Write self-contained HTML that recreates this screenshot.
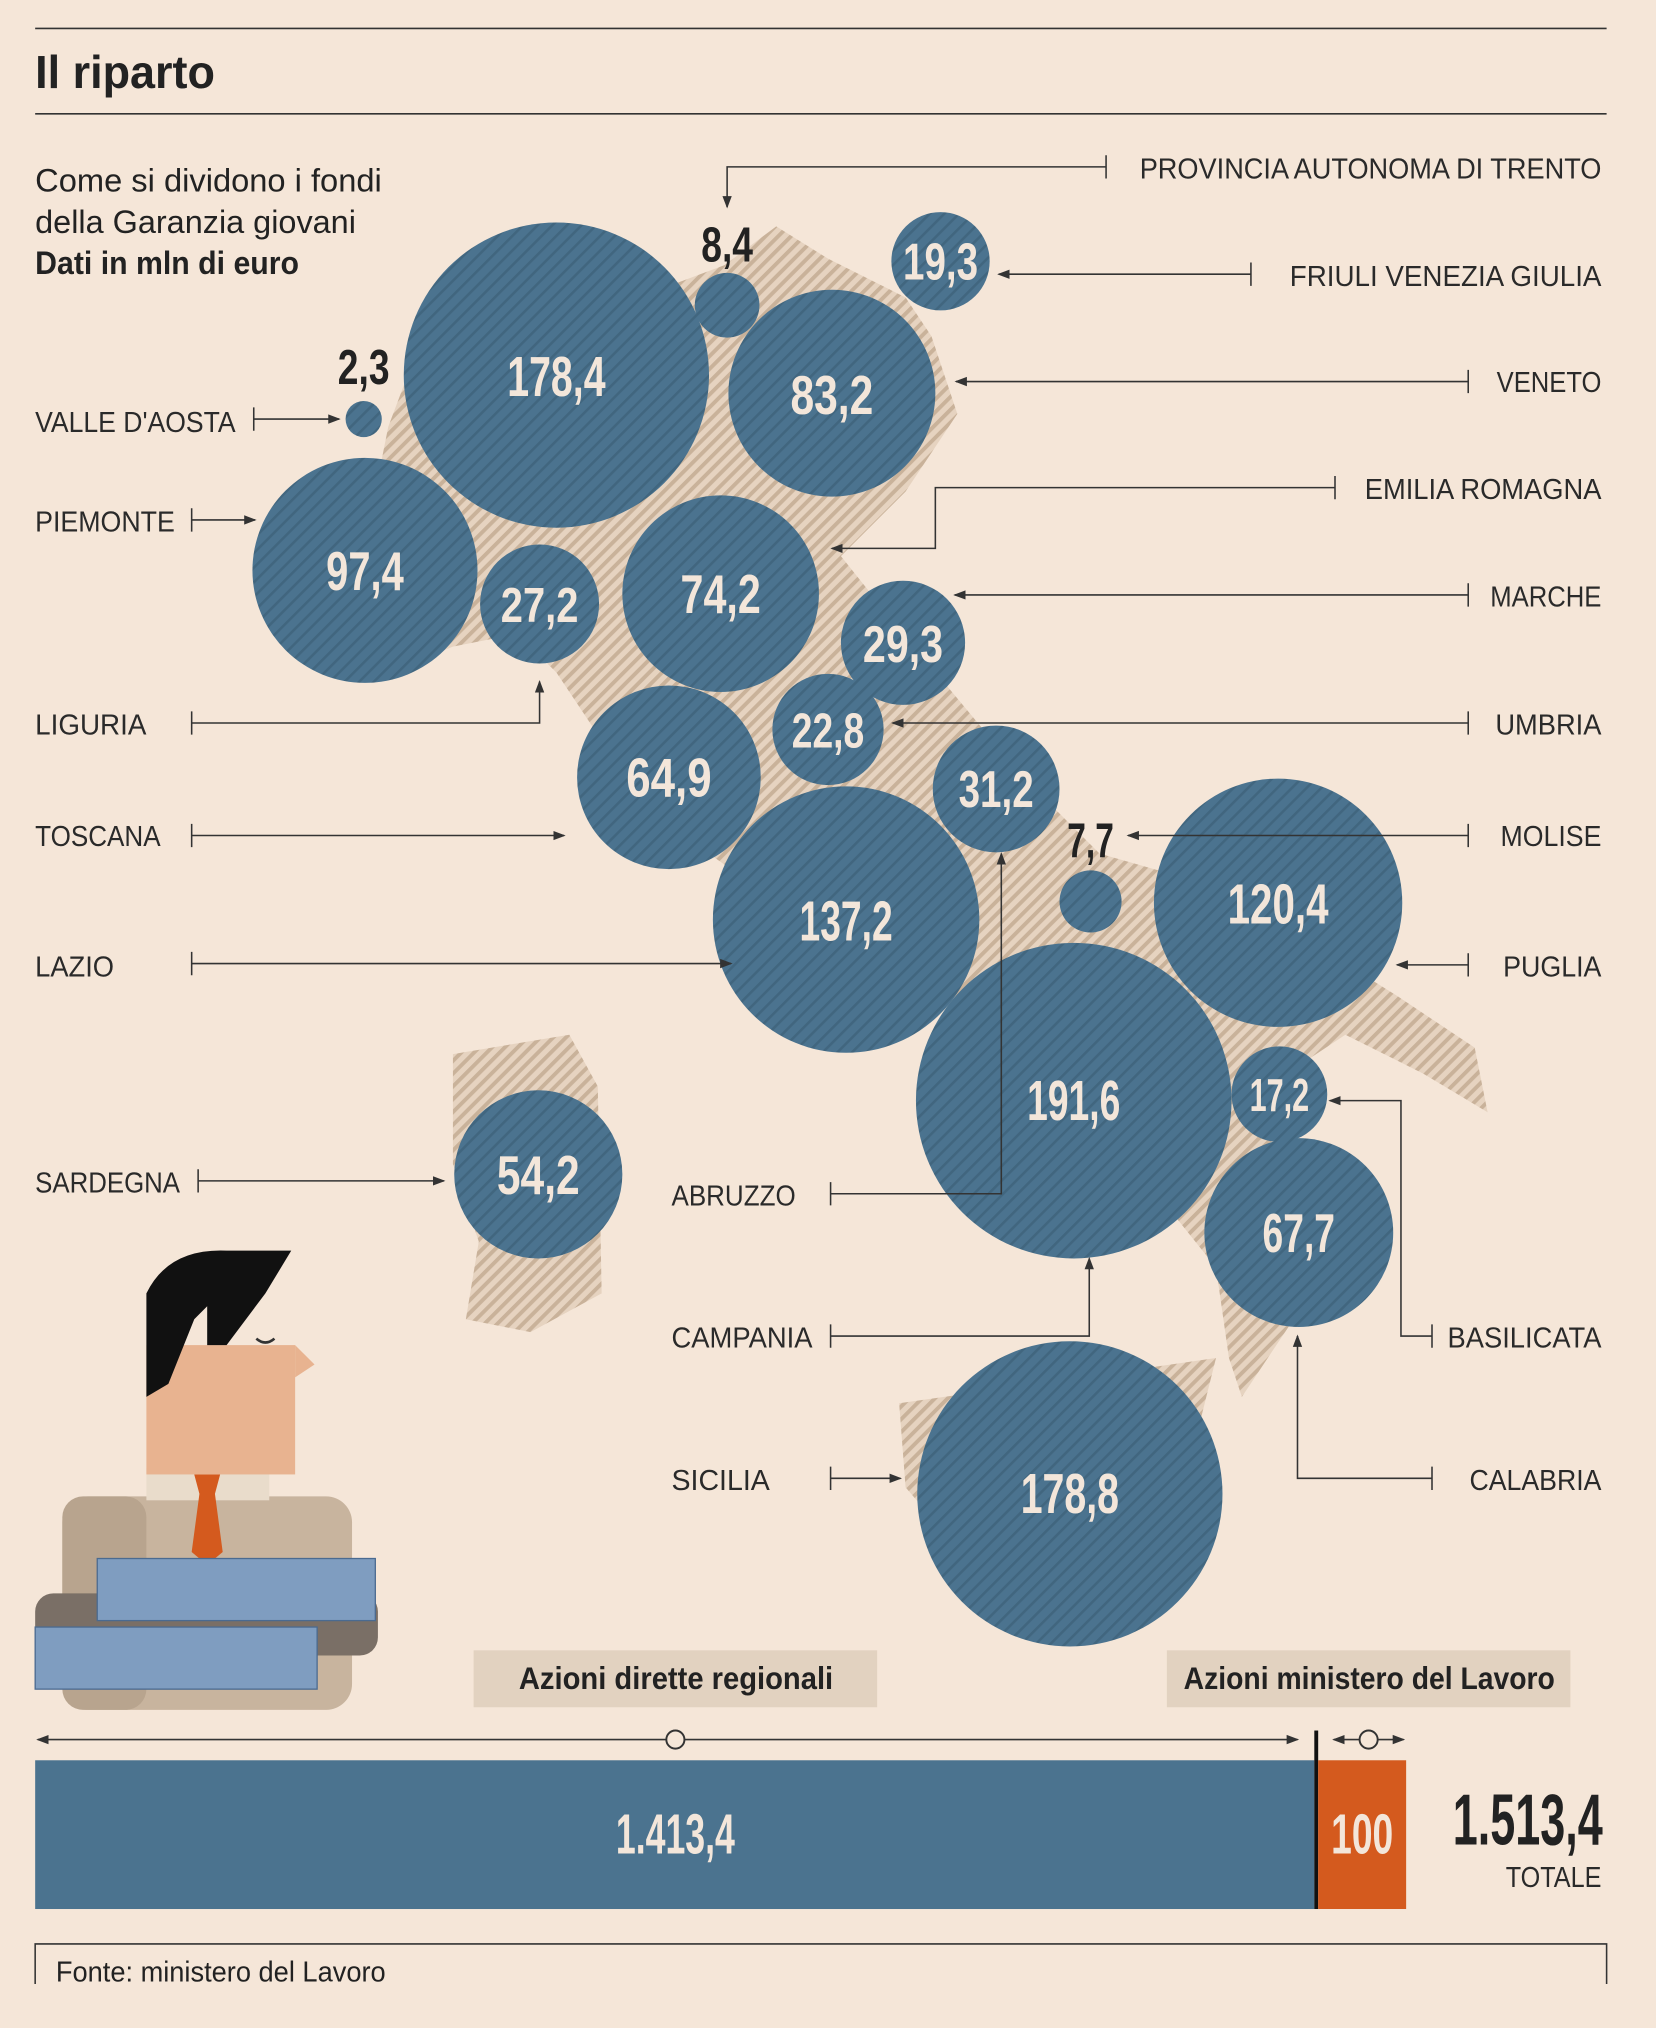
<!DOCTYPE html>
<html><head><meta charset="utf-8"><style>
html,body{margin:0;padding:0;background:#f5e6d8}
svg{display:block}
.t{font-family:"Liberation Sans Narrow","Liberation Sans",sans-serif;}
.lab{font-family:"Liberation Sans Narrow","Liberation Sans",sans-serif;font-size:22px;fill:#2a2a2a}
.num{font-family:"Liberation Sans Narrow","Liberation Sans",sans-serif;font-weight:bold;fill:#f3e6da;text-anchor:middle}
.ln{stroke:#333;stroke-width:1.2;fill:none}
</style></head><body>
<svg width="1656" height="2028" viewBox="0 0 1280 1568" xmlns="http://www.w3.org/2000/svg">
<defs>
<pattern id="h" width="7" height="7" patternUnits="userSpaceOnUse" patternTransform="rotate(45)">
<rect width="7" height="7" fill="#e6d3c0"/><rect width="3" height="7" fill="#c9b29a"/></pattern>
<pattern id="hc" width="8" height="8" patternUnits="userSpaceOnUse" patternTransform="rotate(45)">
<rect width="8" height="8" fill="#4b738f"/><rect width="2" height="8" fill="#41667f"/></pattern>
<marker id="a" markerWidth="8" markerHeight="8" refX="7" refY="4" orient="auto"><path d="M0,1 L8,4 L0,7z" fill="#333"/></marker>
</defs>
<rect width="1280" height="1568" fill="#f5e6d8"/>
<line x1="27" y1="22" x2="1242" y2="22" stroke="#333" stroke-width="1.2"/>
<line x1="27" y1="88" x2="1242" y2="88" stroke="#333" stroke-width="1.2"/>
<text x="27" y="68" class="t" font-size="36" font-weight="bold" fill="#222" textLength="139" lengthAdjust="spacingAndGlyphs">Il riparto</text>
<text x="27" y="148" class="t" font-size="25" fill="#222" textLength="268" lengthAdjust="spacingAndGlyphs">Come si dividono i fondi</text>
<text x="27" y="180" class="t" font-size="25" fill="#222" textLength="248" lengthAdjust="spacingAndGlyphs">della Garanzia giovani</text>
<text x="27" y="212" class="t" font-size="25" font-weight="bold" fill="#222" textLength="204" lengthAdjust="spacingAndGlyphs">Dati in mln di euro</text>

<!-- map -->
<path fill="url(#h)" d="M300,330 L330,250 L380,230 L450,240 L520,220 L560,205 L600,175 L640,200 L700,230 L720,260 L740,320 L700,380 L650,430 L690,480 L740,540 L790,600 L850,660 L920,680 L1000,720 L1080,770 L1140,810 L1150,860 L1100,830 L1040,800 L1010,820 L1000,880 L1020,950 L1000,1020 L960,1080 L950,1050 L940,980 L900,930 L860,880 L800,830 L740,780 L660,740 L590,690 L520,640 L470,580 L430,520 L400,490 L350,500 L300,520 L270,440 L290,380z"/>
<path fill="url(#h)" d="M350,815 L440,800 L462,840 L465,1000 L410,1030 L360,1020 L370,960 L350,900z"/>
<path fill="url(#h)" d="M695,1085 L800,1070 L940,1050 L920,1130 L900,1220 L830,1270 L760,1220 L700,1150z"/>

<!-- circles -->
<g fill="url(#hc)">
<circle cx="430" cy="290" r="118"/><circle cx="562" cy="236" r="25"/><circle cx="727" cy="202" r="38"/>
<circle cx="643" cy="304" r="80"/><circle cx="281" cy="324" r="14"/><circle cx="282" cy="441" r="87"/>
<circle cx="417" cy="467" r="46"/><circle cx="557" cy="459" r="76"/><circle cx="698" cy="497" r="48"/>
<circle cx="640" cy="564" r="43"/><circle cx="517" cy="601" r="71"/><circle cx="770" cy="610" r="49"/>
<circle cx="843" cy="697" r="24"/><circle cx="988" cy="698" r="96"/><circle cx="654" cy="711" r="103"/>
<circle cx="830" cy="851" r="122"/><circle cx="989" cy="846" r="37"/><circle cx="416" cy="908" r="65"/>
<circle cx="1004" cy="953" r="73"/><circle cx="827" cy="1155" r="118"/>
</g>
<g class="num" lengthAdjust="spacingAndGlyphs">
<text x="430" y="306" font-size="44" textLength="76" lengthAdjust="spacingAndGlyphs">178,4</text>
<text x="727" y="216" font-size="40" textLength="58" lengthAdjust="spacingAndGlyphs">19,3</text>
<text x="643" y="320" font-size="42" textLength="64" lengthAdjust="spacingAndGlyphs">83,2</text>
<text x="282" y="456" font-size="42" textLength="60" lengthAdjust="spacingAndGlyphs">97,4</text>
<text x="417" y="481" font-size="38" textLength="60" lengthAdjust="spacingAndGlyphs">27,2</text>
<text x="557" y="474" font-size="42" textLength="62" lengthAdjust="spacingAndGlyphs">74,2</text>
<text x="698" y="512" font-size="40" textLength="62" lengthAdjust="spacingAndGlyphs">29,3</text>
<text x="640" y="578" font-size="38" textLength="56" lengthAdjust="spacingAndGlyphs">22,8</text>
<text x="517" y="616" font-size="42" textLength="66" lengthAdjust="spacingAndGlyphs">64,9</text>
<text x="770" y="624" font-size="40" textLength="58" lengthAdjust="spacingAndGlyphs">31,2</text>
<text x="988" y="714" font-size="44" textLength="78" lengthAdjust="spacingAndGlyphs">120,4</text>
<text x="654" y="727" font-size="44" textLength="72" lengthAdjust="spacingAndGlyphs">137,2</text>
<text x="830" y="866" font-size="44" textLength="72" lengthAdjust="spacingAndGlyphs">191,6</text>
<text x="989" y="859" font-size="36" textLength="46" lengthAdjust="spacingAndGlyphs">17,2</text>
<text x="416" y="923" font-size="42" textLength="64" lengthAdjust="spacingAndGlyphs">54,2</text>
<text x="1004" y="968" font-size="42" textLength="56" lengthAdjust="spacingAndGlyphs">67,7</text>
<text x="827" y="1170" font-size="44" textLength="76" lengthAdjust="spacingAndGlyphs">178,8</text>
</g>
<g class="num" style="fill:#222">
<text x="562" y="202" font-size="38" textLength="40" lengthAdjust="spacingAndGlyphs">8,4</text>
<text x="281" y="297" font-size="38" textLength="40" lengthAdjust="spacingAndGlyphs">2,3</text>
<text x="843" y="663" font-size="38" textLength="36" lengthAdjust="spacingAndGlyphs">7,7</text>
</g>

<!-- labels & leaders -->
<g class="lab">
<text x="881" y="138" textLength="357" lengthAdjust="spacingAndGlyphs">PROVINCIA AUTONOMA DI TRENTO</text>
<text x="997" y="221" textLength="241" lengthAdjust="spacingAndGlyphs">FRIULI VENEZIA GIULIA</text>
<text x="1157" y="303" textLength="81" lengthAdjust="spacingAndGlyphs">VENETO</text>
<text x="1055" y="386" textLength="183" lengthAdjust="spacingAndGlyphs">EMILIA ROMAGNA</text>
<text x="1152" y="469" textLength="86" lengthAdjust="spacingAndGlyphs">MARCHE</text>
<text x="1156" y="568" textLength="82" lengthAdjust="spacingAndGlyphs">UMBRIA</text>
<text x="1160" y="654" textLength="78" lengthAdjust="spacingAndGlyphs">MOLISE</text>
<text x="1162" y="755" textLength="76" lengthAdjust="spacingAndGlyphs">PUGLIA</text>
<text x="1119" y="1042" textLength="119" lengthAdjust="spacingAndGlyphs">BASILICATA</text>
<text x="1136" y="1152" textLength="102" lengthAdjust="spacingAndGlyphs">CALABRIA</text>
<text x="27" y="334" textLength="155" lengthAdjust="spacingAndGlyphs">VALLE D'AOSTA</text>
<text x="27" y="411" textLength="108" lengthAdjust="spacingAndGlyphs">PIEMONTE</text>
<text x="27" y="568" textLength="86" lengthAdjust="spacingAndGlyphs">LIGURIA</text>
<text x="27" y="654" textLength="97" lengthAdjust="spacingAndGlyphs">TOSCANA</text>
<text x="27" y="755" textLength="61" lengthAdjust="spacingAndGlyphs">LAZIO</text>
<text x="27" y="922" textLength="112" lengthAdjust="spacingAndGlyphs">SARDEGNA</text>
<text x="519" y="932" textLength="96" lengthAdjust="spacingAndGlyphs">ABRUZZO</text>
<text x="519" y="1042" textLength="109" lengthAdjust="spacingAndGlyphs">CAMPANIA</text>
<text x="519" y="1152" textLength="76" lengthAdjust="spacingAndGlyphs">SICILIA</text>
</g>
<g class="ln">
<path d="M855,120 V138 M855,129 H562 V160" marker-end="url(#a)"/>
<path d="M967,203 V221 M967,212 H772" marker-end="url(#a)"/>
<path d="M1135,286 V304 M1135,295 H739" marker-end="url(#a)"/>
<path d="M1032,368 V386 M1032,377 H723 V424 H643" marker-end="url(#a)"/>
<path d="M1135,451 V469 M1135,460 H738" marker-end="url(#a)"/>
<path d="M1135,550 V568 M1135,559 H690" marker-end="url(#a)"/>
<path d="M1135,637 V655 M1135,646 H872" marker-end="url(#a)"/>
<path d="M1135,737 V755 M1135,746 H1080" marker-end="url(#a)"/>
<path d="M1107,1024 V1042 M1107,1033 H1083 V851 H1028" marker-end="url(#a)"/>
<path d="M1107,1134 V1152 M1107,1143 H1003 V1033" marker-end="url(#a)"/>
<path d="M196,315 V333 M196,324 H262" marker-end="url(#a)"/>
<path d="M148,393 V411 M148,402 H197" marker-end="url(#a)"/>
<path d="M148,550 V568 M148,559 H417 V527" marker-end="url(#a)"/>
<path d="M148,637 V655 M148,646 H436" marker-end="url(#a)"/>
<path d="M148,736 V754 M148,745 H565" marker-end="url(#a)"/>
<path d="M153,904 V922 M153,913 H343" marker-end="url(#a)"/>
<path d="M642,914 V932 M642,923 H774 V660" marker-end="url(#a)"/>
<path d="M642,1024 V1042 M642,1033 H842 V973" marker-end="url(#a)"/>
<path d="M642,1134 V1152 M642,1143 H696" marker-end="url(#a)"/>
</g>

<!-- person -->
<rect x="48" y="1157" width="224" height="165" rx="20" fill="#c8b49e"/>
<rect x="48" y="1157" width="65" height="165" rx="16" fill="#b8a48e"/>
<rect x="113" y="1135" width="95" height="25" fill="#e9dccb"/>
<rect x="113" y="1040" width="115" height="100" fill="#e8b390"/>
<path d="M228,1040 L243,1055 L228,1065z" fill="#e8b390"/>
<path d="M113,1080 L113,1000 Q130,965 175,967 L225,967 L205,1000 L175,1040 L160,1040 L160,1010 L150,1020 L130,1070z" fill="#111"/>
<path d="M198,1035 Q205,1041 212,1035" stroke="#333" stroke-width="2" fill="none"/>
<path d="M150,1140 H170 L166,1155 L172,1200 L160,1210 L148,1200 L154,1155z" fill="#d45a1e"/>
<rect x="27" y="1232" width="265" height="48" rx="14" fill="#7a6f66"/>
<rect x="75" y="1205" width="215" height="48" fill="#7f9dc0" stroke="#4a6a90"/>
<rect x="27" y="1258" width="218" height="48" fill="#7f9dc0" stroke="#4a6a90"/>

<!-- bottom -->
<rect x="366" y="1276" width="312" height="44" fill="#e2d2c0"/>
<text x="401" y="1306" class="t" font-size="24" font-weight="bold" fill="#222" textLength="243" lengthAdjust="spacingAndGlyphs">Azioni dirette regionali</text>
<rect x="902" y="1276" width="312" height="44" fill="#e2d2c0"/>
<text x="915" y="1306" class="t" font-size="24" font-weight="bold" fill="#222" textLength="287" lengthAdjust="spacingAndGlyphs">Azioni ministero del Lavoro</text>
<g class="ln">
<path d="M522,1345 H1003" marker-end="url(#a)"/><path d="M522,1345 H29" marker-end="url(#a)"/>
<path d="M1058,1345 H1085" marker-end="url(#a)"/><path d="M1058,1345 H1031" marker-end="url(#a)"/>
</g>
<circle cx="522" cy="1345" r="7" fill="#f5e6d8" stroke="#333" stroke-width="1.5"/>
<circle cx="1058" cy="1345" r="7" fill="#f5e6d8" stroke="#333" stroke-width="1.5"/>
<rect x="27" y="1361" width="989" height="115" fill="#4b738f"/>
<rect x="1016" y="1338" width="3" height="138" fill="#111"/>
<rect x="1019" y="1361" width="68" height="115" fill="#d45a1e"/>
<text x="522" y="1433" class="num" font-size="44" textLength="92" lengthAdjust="spacingAndGlyphs">1.413,4</text>
<text x="1053" y="1433" class="num" font-size="44" textLength="48" lengthAdjust="spacingAndGlyphs">100</text>
<text x="1123" y="1426" class="t" font-size="56" font-weight="bold" fill="#222" textLength="116" lengthAdjust="spacingAndGlyphs">1.513,4</text>
<text x="1164" y="1459" class="lab" textLength="74" lengthAdjust="spacingAndGlyphs">TOTALE</text>
<path d="M27,1534 V1503 H1242 V1534" class="ln"/>
<text x="43" y="1532" class="t" font-size="22" fill="#222" textLength="255" lengthAdjust="spacingAndGlyphs">Fonte: ministero del Lavoro</text>
</svg>
</body></html>
